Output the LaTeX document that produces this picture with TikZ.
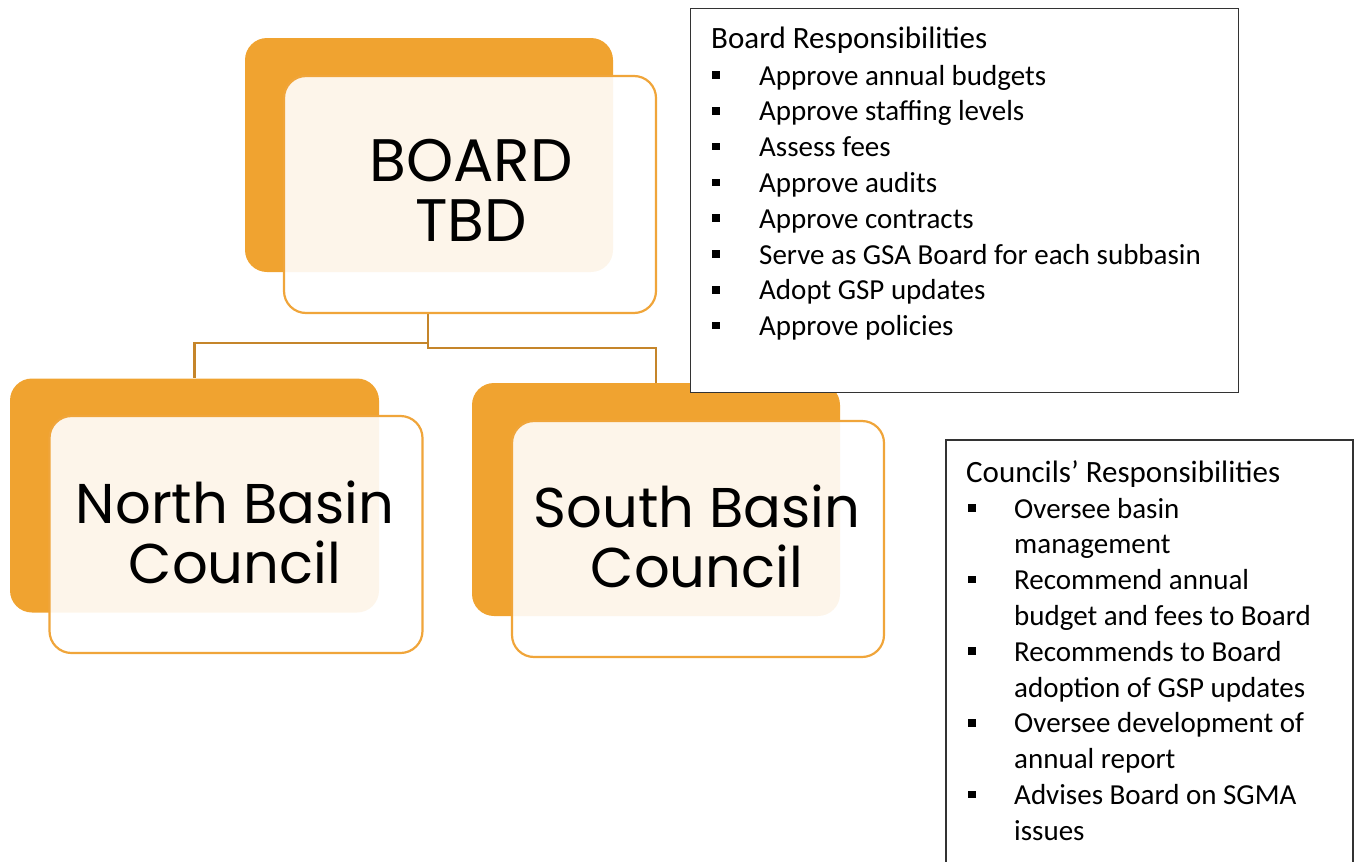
\documentclass[tikz,border=0pt]{standalone}
\usepackage{fontspec}
\setmainfont{Carlito}
\newfontfamily\labelfont{Poppins}
\usetikzlibrary{backgrounds}
\definecolor{orgfill}{HTML}{F0A330}
\definecolor{orgline}{HTML}{F0A53A}
\definecolor{connc}{HTML}{C5852A}
\definecolor{boxline}{HTML}{333333}
\tikzset{
  backbox/.style={fill=orgfill, draw=none, rounded corners=22pt, inner sep=0pt},
  frontbox/.style={fill=white, fill opacity=0.9, text opacity=1, draw=orgline, line width=2.2pt,
     rounded corners=22pt, inner sep=0pt},
  lbl/.style={inner sep=0pt, align=center, font=\labelfont\fontsize{56}{60}\selectfont},
  conn/.style={draw=connc, line width=2.6pt},
  listbox/.style={draw=boxline, line width=1.2pt, fill=white},
  ttl/.style={anchor=base west, inner sep=0pt, font=\fontsize{31}{35}\selectfont},
  itm/.style={anchor=base west, inner sep=0pt, font=\fontsize{29}{34}\selectfont},
  bul/.style={fill=black, draw=none, minimum size=7.5pt, inner sep=0pt},
}
\begin{document}
\begin{tikzpicture}[x=1pt,y=-1pt]
\useasboundingbox (0,0) rectangle (1355,862);
% back boxes
\node[backbox, minimum width=368pt, minimum height=234pt] (boardback) at (429,155) {};
\node[backbox, minimum width=369pt, minimum height=234pt] (northback) at (194.5,495.5) {};
\node[backbox, minimum width=368pt, minimum height=233pt] (southback) at (656,499.5) {};
% front boxes
\node[frontbox, minimum width=372pt, minimum height=237pt] (board) at (470,194.5) {};
\node[frontbox, minimum width=373pt, minimum height=237pt] (north) at (236,534.5) {};
\node[frontbox, minimum width=372pt, minimum height=236pt] (south) at (698,539) {};
% labels
\node[lbl, font=\labelfont\fontsize{60}{60}\selectfont] (boardtxt) at (471,190) {BOARD\\TBD};
\node[lbl] (northtxt) at (235,532) {North Basin\\Council};
\node[lbl] (southtxt) at (697,536.5) {South Basin\\Council};
% connectors
\begin{pgfonlayer}{background}
\draw[conn] ([xshift=-42pt]board.south) -- ++(0,29) -| (northback.north);
\draw[conn] ([xshift=-42pt]board.south) -- ++(0,34) -| (southback.north);
\end{pgfonlayer}
% board responsibilities
\node[listbox, minimum width=548pt, minimum height=384pt, anchor=north west] (blist) at (690,8) {};
\node[ttl] (btitle) at (711,48) {Board Responsibilities};
\foreach \t [count=\i from 0] in {Approve annual budgets,Approve staffing levels,Assess fees,Approve audits,Approve contracts,Serve as GSA Board for each subbasin,Adopt GSP updates,Approve policies}{
  \node[itm, name=bi\i] at (759,85+35.8*\i) {\t};
  \node[bul, name=bb\i] at (716,75+35.8*\i) {};
}
% councils responsibilities
\draw[boxline, line width=1.2pt, fill=white] (946,880) -- (946,440) -- (1353,440) -- (1353,880);
\node[ttl] (ctitle) at (966,482) {Councils’ Responsibilities};
\foreach \t [count=\i from 0] in {Oversee basin,management,Recommend annual,budget and fees to Board,Recommends to Board,adoption of GSP updates,Oversee development of,annual report,Advises Board on SGMA,issues}{
  \node[itm, name=ci\i] at (1014,518+35.8*\i) {\t};
}
\foreach \i in {0,2,4,6,8}{
  \node[bul, name=cb\i] at (972,508+35.8*\i) {};
}
\end{tikzpicture}
\end{document}
